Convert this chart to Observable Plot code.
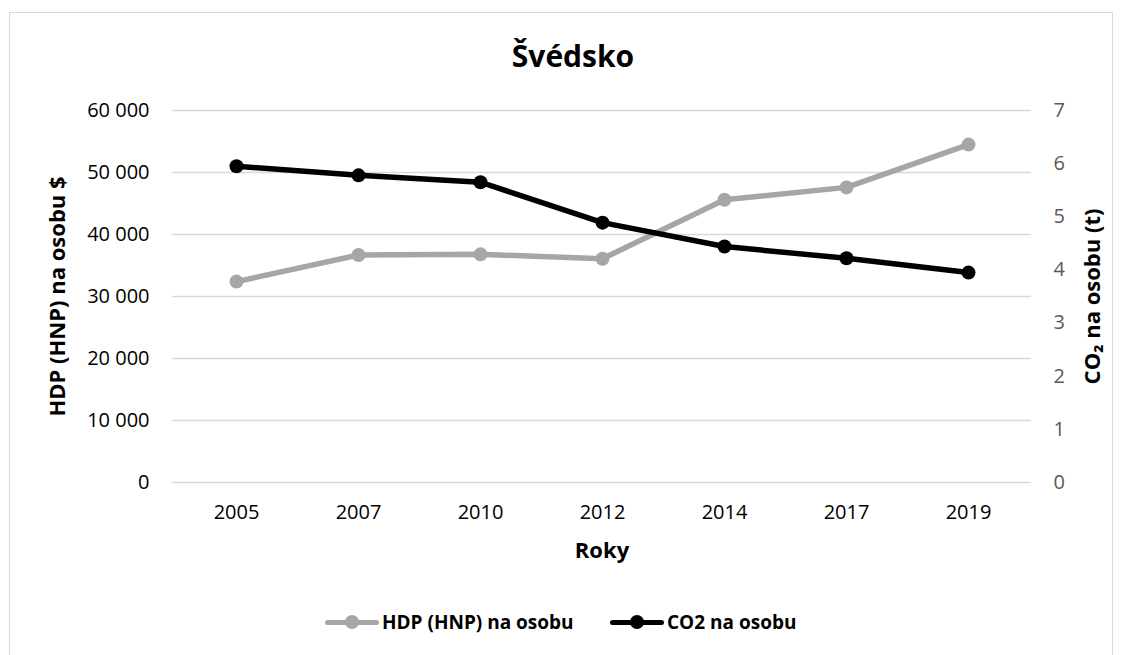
<!DOCTYPE html>
<html>
<head>
<meta charset="utf-8">
<script src="https://cdn.jsdelivr.net/npm/d3@7"></script>
<script src="https://cdn.jsdelivr.net/npm/@observablehq/plot@0.6"></script>
<style>
  html, body { margin: 0; padding: 0; background: #fff; }
  #frame { position: absolute; left: 9px; top: 12px; width: 1104px; height: 660px; border: 1px solid #d9d9d9; box-sizing: border-box; }
  #title { position: absolute; left: 0; top: 36px; width: 1146px; text-align: center; font: bold 30px "Open Sans", sans-serif; color: #000; line-height: 40px; }
  #chart { position: absolute; left: 0; top: 80px; }
  #legend { position: absolute; left: 0; top: 606px; width: 1125px; height: 32px; }
  .leg { position: absolute; top: 0; height: 32px; display: flex; align-items: center; font: bold 19px "Open Sans", sans-serif; color: #000; }
  .sw { position: relative; width: 54px; height: 32px; margin-right: 3px; }
  .sw .ln { position: absolute; left: 0; top: 14px; width: 54px; height: 5px; border-radius: 3px; }
  .sw .dt { position: absolute; left: 20px; top: 9px; width: 14px; height: 14px; border-radius: 50%; }
</style>
</head>
<body>
<div id="frame"></div>
<div id="title">Švédsko</div>
<div id="chart"></div>
<div id="legend">
  <div class="leg" style="left:325px"><div class="sw"><div class="ln" style="background:#a6a6a6"></div><div class="dt" style="background:#a6a6a6"></div></div>HDP (HNP) na osobu</div>
  <div class="leg" style="left:610px"><div class="sw"><div class="ln" style="background:#000"></div><div class="dt" style="background:#000"></div></div>CO2 na osobu</div>
</div>
<script>
const years = ["2005", "2007", "2010", "2012", "2014", "2017", "2019"];
const gdpPerCapita = [32400, 36700, 36800, 36100, 45600, 47600, 54500];
const co2PerCapita = [5.95, 5.78, 5.65, 4.89, 4.44, 4.22, 3.95];
const gdpTicks = [0, 10000, 20000, 30000, 40000, 50000, 60000];
const co2Ticks = [0, 1, 2, 3, 4, 5, 6, 7];

const GDP_MAX = 60000, CO2_MAX = 7;
const toLeft = v => v * GDP_MAX / CO2_MAX;

const gdpData = years.map((y, i) => ({year: y, value: gdpPerCapita[i]}));
const co2Data = years.map((y, i) => ({year: y, value: toLeft(co2PerCapita[i])}));

const fmt = d => d3.format(",")(d).replace(/,/g, "\u00a0");

const chart = Plot.plot({
  width: 1125,
  height: 500,
  marginLeft: 172,
  marginRight: 94,
  marginTop: 30,
  marginBottom: 98,
  style: {fontFamily: "'Open Sans', sans-serif", fontSize: "20px", background: "transparent"},
  x: {type: "point", domain: years, padding: 0.5, label: null},
  y: {domain: [0, GDP_MAX], label: null},
  marks: [
    Plot.gridY(gdpTicks, {stroke: "#d9d9d9", strokeOpacity: 1, strokeWidth: 1.5}),
    Plot.axisY(gdpTicks, {anchor: "left", tickSize: 0, tickPadding: 23, tickFormat: fmt, label: null, fill: "#000", fontSize: 20}),
    Plot.axisY(co2Ticks.map(toLeft), {anchor: "right", tickSize: 0, tickPadding: 22, tickFormat: d => String(Math.round(d * CO2_MAX / GDP_MAX)), label: null, fill: "#595959", fontSize: 20}),
    Plot.axisX(years, {tickSize: 0, tickPadding: 22, label: null, fill: "#000", fontSize: 20}),
    Plot.text(["Roky"], {frameAnchor: "bottom", dy: 75, fontWeight: "bold", fontSize: 22, fill: "#000"}),
    Plot.text(["HDP (HNP) na osobu $"], {frameAnchor: "left", textAnchor: "middle", dx: -115, rotate: -90, fontWeight: "bold", fontSize: 22, fill: "#000"}),
    Plot.text(["CO\u2082 na osobu (t)"], {frameAnchor: "right", textAnchor: "middle", dx: 61, rotate: -90, fontWeight: "bold", fontSize: 22, fill: "#000"}),
    Plot.line(gdpData, {x: "year", y: "value", stroke: "#a6a6a6", strokeWidth: 5.5, strokeLinecap: "round", strokeLinejoin: "round"}),
    Plot.dot(gdpData, {x: "year", y: "value", fill: "#a6a6a6", r: 7}),
    Plot.line(co2Data, {x: "year", y: "value", stroke: "#000", strokeWidth: 5.5, strokeLinecap: "round", strokeLinejoin: "round"}),
    Plot.dot(co2Data, {x: "year", y: "value", fill: "#000", r: 7})
  ]
});
document.getElementById("chart").appendChild(chart);
</script>
</body>
</html>
